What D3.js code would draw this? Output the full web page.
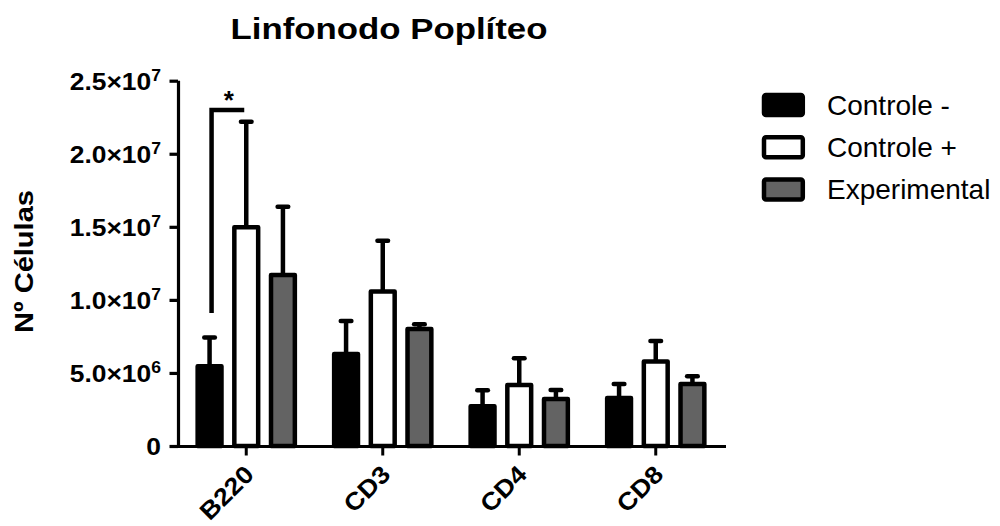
<!DOCTYPE html>
<html>
<head>
<meta charset="utf-8">
<script src="https://cdn.jsdelivr.net/npm/d3@7"></script>
<style>
  html, body { margin: 0; padding: 0; background: #fff; }
  svg { display: block; font-family: "Liberation Sans", Arial, sans-serif; }
</style>
</head>
<body>
<svg id="chart" width="1000" height="526"></svg>
<script>
// Cell counts per marker (mean and upper SEM) for the three groups
const categories = ["B220", "CD3", "CD4", "CD8"];
const seriesNames = ["Controle -", "Controle +", "Experimental"];
const controleNeg = [5.45e6, 6.30e6, 2.72e6, 3.28e6];
const controleNegErr = [1.97e6, 2.25e6, 1.10e6, 0.97e6];
const controlePos = [14.97e6, 10.57e6, 4.17e6, 5.78e6];
const controlePosErr = [7.22e6, 3.48e6, 1.83e6, 1.41e6];
const experimental = [11.70e6, 8.00e6, 3.22e6, 4.24e6];
const experimentalErr = [4.67e6, 0.33e6, 0.61e6, 0.54e6];
const yTicks = [0, 5e6, 1e7, 1.5e7, 2e7, 2.5e7];
// significance bracket: B220, Controle - vs Controle +, from / to heights
const sigCategory = "B220";
const sigPair = ["Controle -", "Controle +"];
const sigLevels = [9.1e6, 2.3e7];
const sigLabel = "*";

const fills = { "Controle -": "#000000", "Controle +": "#ffffff", "Experimental": "#636363" };
const values = [controleNeg, controlePos, experimental];
const errors = [controleNegErr, controlePosErr, experimentalErr];

const rows = [];
categories.forEach((c, i) => {
  seriesNames.forEach((s, j) => {
    rows.push({ cat: c, series: s, value: values[j][i], err: errors[j][i] });
  });
});

const svg = d3.select("#chart");
const plotLeft = 178, plotRight = 724, plotTop = 80.7, plotBottom = 446;
const stretch = 1.1;

const x0 = d3.scaleBand().domain(categories).range([plotLeft, plotRight]);
const x1 = d3.scaleBand().domain(seriesNames).range([-48.6, 48.6]).paddingInner(0.35);
const y = d3.scaleLinear().domain([0, 2.5e7]).range([plotBottom, plotTop]);
const cx = (c, s) => x0(c) + x0.bandwidth() / 2 + x1(s) + x1.bandwidth() / 2;

// title
svg.append("g")
  .attr("transform", `translate(389,39) scale(1.16,1)`)
  .append("text")
  .attr("text-anchor", "middle")
  .attr("font-weight", "bold")
  .attr("font-size", 30)
  .text("Linfonodo Poplíteo");

// y axis title
svg.append("text")
  .attr("transform", "translate(33,261.5) rotate(-90)")
  .attr("text-anchor", "middle")
  .attr("font-weight", "bold")
  .attr("font-size", 26.5)
  .attr("textLength", 143)
  .attr("lengthAdjust", "spacingAndGlyphs")
  .text("Nº Células");

// bars
const bars = svg.append("g");
bars.selectAll("rect")
  .data(rows)
  .join("rect")
  .attr("x", d => cx(d.cat, d.series) - x1.bandwidth() / 2)
  .attr("y", d => y(d.value))
  .attr("width", x1.bandwidth())
  .attr("height", d => y(0) - y(d.value))
  .attr("fill", d => fills[d.series])
  .attr("stroke", "#000")
  .attr("stroke-width", 4.5)
  .attr("stroke-linejoin", "round");

// error bars (upper only)
const eb = svg.append("g").attr("stroke", "#000").attr("stroke-width", 4.5);
eb.selectAll("line.stem")
  .data(rows)
  .join("line")
  .attr("class", "stem")
  .attr("x1", d => cx(d.cat, d.series))
  .attr("x2", d => cx(d.cat, d.series))
  .attr("y1", d => y(d.value))
  .attr("y2", d => y(d.value + d.err));
eb.selectAll("line.cap")
  .data(rows)
  .join("line")
  .attr("class", "cap")
  .attr("stroke-linecap", "round")
  .attr("x1", d => cx(d.cat, d.series) - 5.3)
  .attr("x2", d => cx(d.cat, d.series) + 5.3)
  .attr("y1", d => y(d.value + d.err))
  .attr("y2", d => y(d.value + d.err));

// y axis
const yAxis = svg.append("g")
  .attr("transform", `translate(${plotLeft},0)`)
  .call(d3.axisLeft(y).tickValues(yTicks).tickSize(8.5).tickSizeOuter(0).tickFormat(""));
yAxis.selectAll("path, line").attr("stroke", "#000").attr("stroke-width", 3.2);
yAxis.select("path").attr("d", `M0.5,${plotTop}V${plotBottom}`);

yTicks.forEach(t => {
  const g = svg.append("g")
    .attr("transform", `translate(161,${y(t) + 8.8}) scale(${stretch},1)`);
  const txt = g.append("text")
    .attr("text-anchor", "end")
    .attr("font-weight", "bold")
    .attr("font-size", 24);
  if (t === 0) {
    txt.text("0");
  } else {
    const exp = Math.floor(Math.log10(t));
    const mant = (t / Math.pow(10, exp)).toFixed(1);
    txt.append("tspan").text(mant + "×10");
    txt.append("tspan").attr("dy", -8.5).attr("font-size", 16).text(exp);
  }
});

// x axis
const xAxis = svg.append("g")
  .attr("transform", `translate(0,${plotBottom})`)
  .call(d3.axisBottom(x0).tickSize(9.5).tickSizeOuter(0).tickFormat(""));
xAxis.selectAll("path, line").attr("stroke", "#000").attr("stroke-width", 3);
xAxis.select("path").attr("d", `M${plotLeft},0.5H${plotRight + 2}`);

categories.forEach(c => {
  svg.append("g")
    .attr("transform", `translate(${x0(c) + x0.bandwidth() / 2 + 9},476) rotate(-45) scale(1.1,1)`)
    .append("text")
    .attr("text-anchor", "end")
    .attr("font-weight", "bold")
    .attr("font-size", 24.5)
    .text(c);
});

// significance bracket
const bx1 = cx(sigCategory, sigPair[0]) + 2;
const bx2 = cx(sigCategory, sigPair[1]) - 2;
svg.append("path")
  .attr("d", `M${bx1},${y(sigLevels[0])}V${y(sigLevels[1])}H${bx2}`)
  .attr("fill", "none")
  .attr("stroke", "#000")
  .attr("stroke-width", 4.5)
  .attr("stroke-linejoin", "miter");
svg.append("text")
  .attr("x", (bx1 + bx2) / 2 + 1)
  .attr("y", y(sigLevels[1]) - 1)
  .attr("text-anchor", "middle")
  .attr("font-weight", "bold")
  .attr("font-size", 26)
  .text(sigLabel);

// legend
const legend = svg.append("g");
seriesNames.forEach((s, i) => {
  const ly = 105 + i * 42.2;
  legend.append("rect")
    .attr("x", 764)
    .attr("y", ly - 10)
    .attr("width", 38.8)
    .attr("height", 20)
    .attr("rx", 2)
    .attr("fill", fills[s])
    .attr("stroke", "#000")
    .attr("stroke-width", 4.5);
  legend.append("text")
    .attr("x", 827)
    .attr("y", ly + 10)
    .attr("font-size", 28)
    .text(s);
});
</script>
</body>
</html>
